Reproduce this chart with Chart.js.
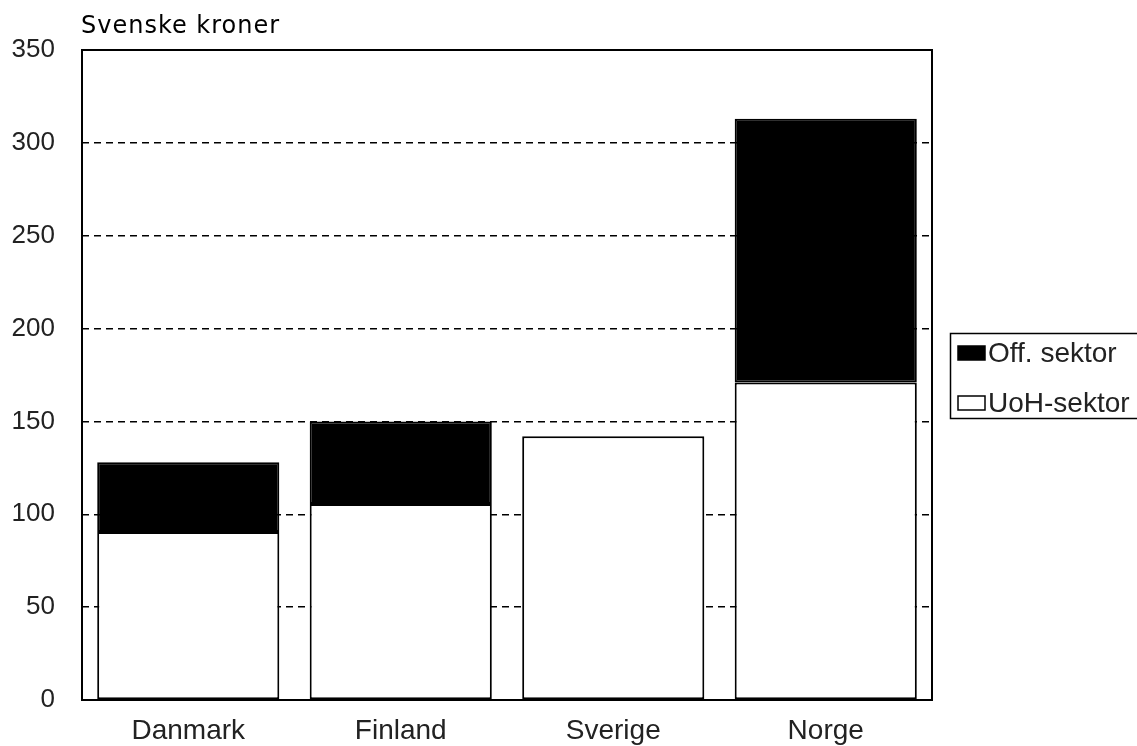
<!DOCTYPE html>
<html>
<head>
<meta charset="utf-8">
<script src="https://cdn.jsdelivr.net/npm/chart.js@4/dist/chart.umd.min.js"></script>
<style>
  html, body { margin: 0; padding: 0; background: #fff; }
  #wrap { width: 1137px; height: 746px; position: relative; }
</style>
</head>
<body>
<div id="wrap"><canvas id="c" width="1137" height="746"></canvas></div>
<script>
const categories = ["Danmark", "Finland", "Sverige", "Norge"];
const uohSektor = [90.5, 105.5, 142, 171];
const offSektor = [37.5, 44.5, null, 142];
const seriesNames = ["UoH-sektor", "Off. sektor"];
const yTitle = "Svenske kroner";
const yMin = 0, yMax = 350, yStep = 50;

const FONT = "'Liberation Sans', Arial, sans-serif";

const framePlugin = {
  id: 'frame',
  afterDraw(chart) {
    const { ctx, chartArea: a } = chart;
    ctx.save();
    ctx.strokeStyle = '#000';
    ctx.lineWidth = 2;
    ctx.strokeRect(a.left, a.top, a.right - a.left, a.bottom - a.top);
    // axis title
    ctx.fillStyle = '#000';
    ctx.font = "24px 'DejaVu Sans', sans-serif";
    try { ctx.letterSpacing = '1px'; } catch (e) {}
    ctx.textAlign = 'left';
    ctx.textBaseline = 'middle';
    ctx.fillText(yTitle, 81, 27);
    try { ctx.letterSpacing = '0px'; } catch (e) {}
    // legend
    const lx = 950, ly = 333, lw = 200, lh = 85;
    ctx.lineWidth = 1.5;
    ctx.strokeRect(lx + 0.5, ly + 0.5, lw, lh);
    const items = chart.data.datasets.slice().reverse();
    ctx.font = "28px " + FONT;
    items.forEach((ds, i) => {
      const cy = 353 + i * 50;
      ctx.fillStyle = ds.backgroundColor;
      ctx.fillRect(958, cy - 7, 27, 14);
      ctx.strokeStyle = '#000';
      ctx.lineWidth = 1.5;
      ctx.strokeRect(958, cy - 7, 27, 14);
      ctx.fillStyle = '#222';
      ctx.fillText(ds.label, 988, cy + 1);
    });
    ctx.restore();
  }
};

new Chart(document.getElementById('c'), {
  type: 'bar',
  data: {
    labels: categories,
    datasets: [
      { label: seriesNames[0], data: uohSektor, backgroundColor: '#ffffff', borderColor: '#000', borderWidth: 2, borderSkipped: false },
      { label: seriesNames[1], data: offSektor, backgroundColor: '#000000', borderColor: '#000', borderWidth: 2, borderSkipped: false }
    ]
  },
  options: {
    responsive: false,
    animation: false,
    devicePixelRatio: 1,
    layout: { padding: { top: 50, right: 205, left: 0, bottom: 0 } },
    datasets: { bar: { categoryPercentage: 1.0, barPercentage: 0.857 } },
    plugins: { legend: { display: false }, tooltip: { enabled: false }, title: { display: false } },
    scales: {
      x: {
        stacked: true,
        grid: { display: false, drawTicks: false },
        border: { display: false },
        ticks: { color: '#222', font: { family: FONT, size: 28 }, padding: 14, maxRotation: 0 },
        afterFit(s) { s.height = 46; }
      },
      y: {
        stacked: true,
        min: yMin, max: yMax,
        border: { display: false, dash: [7, 5] },
        grid: {
          drawTicks: false,
          color: (c) => (c.tick && (c.tick.value === yMin || c.tick.value === yMax)) ? 'rgba(0,0,0,0)' : '#000',
          lineWidth: 1.5
        },
        ticks: { stepSize: yStep, color: '#222', font: { family: FONT, size: 26 }, padding: 27 },
        afterFit(s) { s.width = 82; }
      }
    }
  },
  plugins: [framePlugin]
});
</script>
</body>
</html>
